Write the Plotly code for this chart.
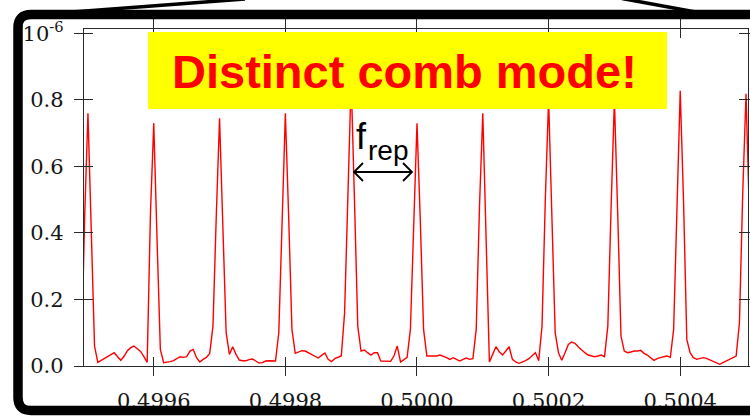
import plotly.graph_objects as go

# ---------------- data ----------------
freq_start = 0.49949      # first sample frequency
freq_step = 5e-6          # spectrum sample spacing

# two samples on the rising edge of the first mode
lead = [0.02, 0.45]
# each list: [peak, +1, +2, ... baseline ..., rising edge of next mode (2 samples)]
mode_0 = [0.76, 0.42, 0.06, 0.011, 0.017, 0.022, 0.027, 0.035, 0.040, 0.028, 0.017, 0.030, 0.046, 0.055, 0.060, 0.052, 0.044, 0.028, 0.011, 0.46]
mode_1 = [0.73, 0.38, 0.05, 0.010, 0.011, 0.013, 0.016, 0.022, 0.028, 0.026, 0.028, 0.045, 0.050, 0.025, 0.012, 0.020, 0.026, 0.038, 0.12, 0.45]
mode_2 = [0.745, 0.42, 0.10, 0.035, 0.058, 0.035, 0.018, 0.016, 0.016, 0.019, 0.021, 0.015, 0.009, 0.010, 0.015, 0.016, 0.016, 0.015, 0.10, 0.47]
mode_3 = [0.76, 0.45, 0.11, 0.038, 0.041, 0.046, 0.045, 0.040, 0.035, 0.028, 0.024, 0.032, 0.039, 0.020, 0.013, 0.022, 0.026, 0.030, 0.16, 0.50]
mode_4 = [0.86, 0.50, 0.12, 0.045, 0.048, 0.040, 0.033, 0.040, 0.040, 0.015, 0.014, 0.014, 0.014, 0.030, 0.060, 0.012, 0.020, 0.026, 0.11, 0.45]
mode_5 = [0.73, 0.44, 0.11, 0.030, 0.030, 0.030, 0.030, 0.033, 0.030, 0.025, 0.020, 0.025, 0.020, 0.015, 0.020, 0.024, 0.020, 0.022, 0.11, 0.48]
mode_6 = [0.76, 0.40, 0.012, 0.035, 0.058, 0.043, 0.033, 0.045, 0.058, 0.020, 0.012, 0.008, 0.011, 0.016, 0.022, 0.030, 0.040, 0.016, 0.12, 0.50]
mode_7 = [0.80, 0.45, 0.10, 0.040, 0.017, 0.040, 0.065, 0.072, 0.068, 0.058, 0.048, 0.040, 0.033, 0.030, 0.028, 0.030, 0.033, 0.028, 0.12, 0.48]
mode_8 = [0.80, 0.46, 0.09, 0.045, 0.040, 0.042, 0.045, 0.045, 0.047, 0.038, 0.033, 0.025, 0.017, 0.022, 0.026, 0.028, 0.030, 0.026, 0.11, 0.50]
mode_9 = [0.827, 0.50, 0.08, 0.040, 0.025, 0.020, 0.023, 0.025, 0.023, 0.018, 0.015, 0.008, 0.005, 0.010, 0.015, 0.020, 0.024, 0.030, 0.13, 0.52]
mode_10 = [0.818, 0.45, 0.10, 0.03]

modes = [mode_0, mode_1, mode_2, mode_3, mode_4, mode_5, mode_6, mode_7, mode_8, mode_9, mode_10]
intensity = list(lead)
for m in modes:
    intensity += m
freq = [freq_start + i * freq_step for i in range(len(intensity))]

x_range = [0.499494, 0.500503]
y_range = [0.0, 1.013]
xtick_vals = [0.4996, 0.4998, 0.5000, 0.5002, 0.5004]
xtick_text = ["0.4996", "0.4998", "0.5000", "0.5002", "0.5004"]
ytick_vals = [0.0, 0.2, 0.4, 0.6, 0.8, 1.0]
ytick_text = ["0.0", "0.2", "0.4", "0.6", "0.8", "10<sup>-6</sup>"]

title_text = "Distinct comb mode!"
frep_main = "f"
frep_sub = "rep"

# ---------------- layout geometry ----------------
W, H = 750, 419
ML, MR, MT, MB = 84, 2, 29, 53
PW, PH = W - ML - MR, H - MT - MB


def px(x):
    return (x - ML) / PW


def py(y):
    return (H - MB - y) / PH


axis_col = "#2a2a2a"
tick_font = dict(family="DejaVu Serif", size=21, color="#151515")

fig = go.Figure()
fig.add_trace(go.Scatter(x=freq, y=intensity, mode="lines",
                         line=dict(color="#FF0000", width=1.4),
                         hoverinfo="skip", showlegend=False))
# helper trace so the inside-tick overlay axes are drawn
fig.add_trace(go.Scatter(x=[freq[0]], y=[0], xaxis="x2", yaxis="y2", mode="markers",
                         marker=dict(opacity=0), hoverinfo="skip", showlegend=False))

common = dict(showgrid=False, zeroline=False, ticklen=9, tickwidth=1.3, tickcolor=axis_col,
              automargin=False)

fig.update_layout(
    width=W, height=H,
    margin=dict(l=ML, r=MR, t=MT, b=MB, pad=0, autoexpand=False),
    paper_bgcolor="white", plot_bgcolor="white",
    showlegend=False,
    xaxis=dict(range=x_range, showline=True, linecolor=axis_col, linewidth=1.3,
               mirror="ticks", ticks="outside", tickvals=xtick_vals, ticktext=xtick_text,
               tickfont=tick_font, ticklabelstandoff=7, **common),
    yaxis=dict(range=y_range, showline=True, linecolor=axis_col, linewidth=1.3,
               mirror="ticks", ticks="outside", tickvals=ytick_vals, ticktext=ytick_text,
               tickfont=tick_font, ticklabelstandoff=6, **common),
    xaxis2=dict(range=x_range, overlaying="x", matches="x", anchor="y2", side="bottom",
                showline=False, mirror="ticks", ticks="inside", tickvals=xtick_vals,
                showticklabels=False, **common),
    yaxis2=dict(range=y_range, overlaying="y", matches="y", anchor="x2", side="left",
                showline=False, mirror="ticks", ticks="inside", tickvals=ytick_vals,
                showticklabels=False, **common),
)

shapes = []
# yellow label box
shapes.append(dict(type="rect", xref="paper", yref="paper", layer="above",
                   x0=px(148), x1=px(667), y0=py(109), y1=py(32),
                   fillcolor="#FFFF00", line=dict(width=0)))
# double arrow for f_rep
ay = 172
arrow_path = (f"M{px(354)},{py(ay)} L{px(412)},{py(ay)} "
              f"M{px(363)},{py(ay - 9)} L{px(354)},{py(ay)} L{px(363)},{py(ay + 9)} "
              f"M{px(403)},{py(ay - 9)} L{px(412)},{py(ay)} L{px(403)},{py(ay + 9)}")
shapes.append(dict(type="path", xref="paper", yref="paper", layer="above",
                   path=arrow_path, line=dict(color="black", width=1.8)))
# thick slide frame with rounded corners
fx, ftop, fbot, fr, r = 18, 14.5, 410.5, 780, 13
frame_path = (f"M{px(fr)},{py(ftop)} L{px(fx + r)},{py(ftop)} "
              f"Q{px(fx)},{py(ftop)} {px(fx)},{py(ftop + r)} "
              f"L{px(fx)},{py(fbot - r)} "
              f"Q{px(fx)},{py(fbot)} {px(fx + r)},{py(fbot)} "
              f"L{px(fr)},{py(fbot)}")
shapes.append(dict(type="path", xref="paper", yref="paper", layer="above",
                   path=frame_path, line=dict(color="black", width=9.5)))
# zoom callout diagonals
shapes.append(dict(type="line", xref="paper", yref="paper", layer="above",
                   x0=px(32), y0=py(15), x1=px(245), y1=py(-1),
                   line=dict(color="black", width=3.5)))
shapes.append(dict(type="line", xref="paper", yref="paper", layer="above",
                   x0=px(622), y0=py(-1.5), x1=px(712), y1=py(15),
                   line=dict(color="black", width=3.5)))
fig.update_layout(shapes=shapes)

fig.update_layout(annotations=[
    dict(xref="paper", yref="paper", x=px(404), y=py(72), xanchor="center", yanchor="middle",
         text=title_text, showarrow=False,
         font=dict(family="Arial, Liberation Sans", size=47, color="#FF0000", weight="bold")),
    dict(xref="paper", yref="paper", x=px(354), y=py(136), xanchor="left", yanchor="middle",
         text=frep_main, showarrow=False,
         font=dict(family="Arial, Liberation Sans", size=36, color="black")),
    dict(xref="paper", yref="paper", x=px(366), y=py(150), xanchor="left", yanchor="middle",
         text=frep_sub, showarrow=False,
         font=dict(family="Arial, Liberation Sans", size=28, color="black")),
])

fig.write_html("out.html")
